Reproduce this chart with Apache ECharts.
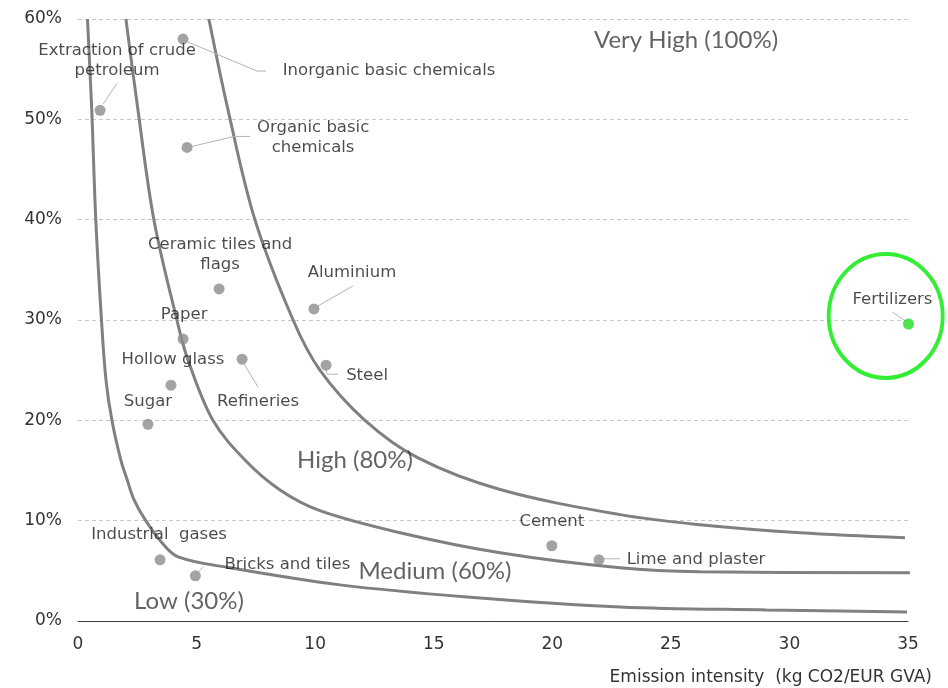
<!DOCTYPE html>
<html><head><meta charset="utf-8">
<script src="https://cdn.jsdelivr.net/npm/echarts@6/dist/echarts.min.js"></script>
<style>html,body{margin:0;padding:0;background:#fff}#c{width:948px;height:688px}</style>
</head><body><div id="c"></div>
<script>
// ---- data ----
const sectorNames = ['Extraction of crude\npetroleum','Inorganic basic chemicals','Organic basic\nchemicals','Ceramic tiles and\nflags','Aluminium','Paper','Hollow glass','Refineries','Steel','Sugar','Industrial  gases','Bricks and tiles','Cement','Lime and plaster','Fertilizers'];
const intensity = [0.93, 4.43, 4.6, 5.95, 9.95, 4.43, 3.92, 6.92, 10.46, 2.95, 3.46, 4.95, 19.98, 21.97, 35.02];
const share     = [50.9, 58.0, 47.2, 33.1, 31.1, 28.1, 23.5, 26.1, 25.5, 19.6, 6.1, 4.5, 7.5, 6.1, 29.6];

const xTicks = [0, 5, 10, 15, 20, 25, 30, 35];
const yTicks = [0, 10, 20, 30, 40, 50, 60];

const lowCurve = [[0.40,60.0],[0.58,50.9],[0.75,40.0],[0.99,30.0],[1.18,24.0],[1.43,20.0],[1.81,16.0],[2.07,14.1],[2.36,12.1],[2.83,10.1],[3.54,7.8],[4.22,6.4],[6.41,5.3],[11.05,3.6],[16.4,2.4],[22.86,1.4],[29.05,1.1],[34.96,0.9]];
const mediumCurve = [[2.02,60.0],[2.53,50.9],[3.20,40.0],[4.17,30.0],[4.64,26.0],[5.69,20.0],[7.04,16.05],[8.52,13.06],[10.2,11.0],[13.58,8.8],[17.8,6.8],[22.86,5.3],[26.23,4.9],[35.08,4.8]];
const highCurve = [[5.52,60.0],[6.33,50.9],[7.46,40.0],[9.07,30.0],[10.2,25.0],[12.1,20.0],[14.34,16.25],[17.8,13.1],[22.86,10.6],[26.23,9.6],[30.45,8.8],[34.87,8.3]];

const zoneNames = ['Very High (100%)','High (80%)','Medium (60%)','Low (30%)'];
const zonePos = [[25.64,57.9],[11.68,16.05],[15.05,4.98],[4.68,1.99]];

const highlightName = 'Fertilizers';
const highlightCenter = [34.06, 30.4];

// label centre offsets relative to the point (pixels)
const labelOffsets = {
  'Extraction of crude\npetroleum': [17, -50],
  'Inorganic basic chemicals': [206, 32],
  'Organic basic\nchemicals': [126, -10],
  'Ceramic tiles and\nflags': [1, -34],
  'Aluminium': [38, -36],
  'Paper': [1, -24],
  'Hollow glass': [2, -25],
  'Refineries': [16, 43],
  'Steel': [41, 11],
  'Sugar': [0, -23],
  'Industrial  gases': [-1, -25],
  'Bricks and tiles': [92, -11],
  'Cement': [0, -24],
  'Lime and plaster': [97, 0],
  'Fertilizers': [-16, -24]
};
// leader-line vertices relative to the point (pixels)
const leaderOffsets = {
  'Extraction of crude\npetroleum': [[3,-6],[17,-27]],
  'Inorganic basic chemicals': [[5,3],[74,32],[83,32]],
  'Organic basic\nchemicals': [[5,-1],[47,-11],[63,-11]],
  'Aluminium': [[4,-3],[39,-23]],
  'Refineries': [[2,5],[16,28]],
  'Steel': [[0,5],[1,9],[12,9]],
  'Bricks and tiles': [[3,-4],[8,-9]],
  'Lime and plaster': [[5,-1],[21,-1]],
  'Fertilizers': [[-3,-3],[-16,-12]]
};

const labelFont = 'DejaVu Sans, Verdana, sans-serif';
const zoneFont = 'Lato, Open Sans, sans-serif';

const points = sectorNames.map((n, i) => ({
  name: n,
  value: [intensity[i], share[i]],
  itemStyle: { color: n === highlightName ? '#22dd22' : '#8c8c8c' }
}));

const curveStyle = { color: '#808080', width: 3 };
function curve(name, data) {
  return { name, type: 'line', data, showSymbol: false, smooth: 0.35, clip: false,
    lineStyle: curveStyle, itemStyle: { color: '#808080' }, silent: true, z: 2 };
}

const chart = echarts.init(document.getElementById('c'));
chart.setOption({
  animation: false,
  backgroundColor: '#ffffff',
  grid: { left: 78, right: 40, top: 19, bottom: 67 },
  xAxis: {
    type: 'value', min: xTicks[0], max: xTicks[xTicks.length - 1], interval: 5,
    axisLine: { show: true, lineStyle: { color: '#404040', width: 1 } },
    axisTick: { show: false },
    splitLine: { show: false },
    axisLabel: { color: '#333333', fontFamily: labelFont, fontSize: 17, margin: 15 },
    name: 'Emission intensity  (kg CO2/EUR GVA)',
    nameLocation: 'end', nameGap: 24,
    nameTextStyle: { color: '#333333', fontFamily: labelFont, fontSize: 17, align: 'right', verticalAlign: 'top', padding: [48, 0, 0, 0] }
  },
  yAxis: {
    type: 'value', min: yTicks[0], max: yTicks[yTicks.length - 1], interval: 10,
    axisLine: { show: false }, axisTick: { show: false },
    splitLine: { show: true, lineStyle: { color: '#c8c8c8', type: [4, 3], width: 1 } },
    axisLabel: { color: '#333333', fontFamily: labelFont, fontSize: 17, margin: 16, formatter: '{value}%' }
  },
  series: [
    curve('Low', lowCurve),
    curve('Medium', mediumCurve),
    curve('High', highCurve),
    {
      name: 'Leaders', type: 'custom', silent: true, z: 3, clip: false,
      data: points.map(p => ({ name: p.name, value: p.value })),
      renderItem: (params, api) => {
        const off = leaderOffsets[sectorNames[params.dataIndex]];
        if (!off) return null;
        const c = api.coord([api.value(0), api.value(1)]);
        return { type: 'polyline', shape: { points: off.map(o => [c[0] + o[0], c[1] + o[1]]) },
          style: { stroke: '#b4b4b4', lineWidth: 1, fill: null } };
      }
    },
    {
      name: 'Sectors', type: 'scatter', data: points, symbolSize: 11, z: 5, silent: true, clip: false,
      label: { show: true, position: 'inside', formatter: p => p.name, color: '#1e1e1e',
        fontFamily: labelFont, fontSize: 16.5, lineHeight: 20, align: 'center' },
      labelLayout: p => { const o = labelOffsets[sectorNames[p.dataIndex]]; return { dx: o[0], dy: o[1] }; }
    },
    {
      name: 'Zones', type: 'scatter', symbolSize: 0, silent: true, z: 6,
      data: zoneNames.map((n, i) => ({ name: n, value: zonePos[i] })),
      label: { show: true, position: 'inside', formatter: p => p.name, color: '#3c3c3c',
        fontFamily: zoneFont, fontSize: 24 }
    },
    {
      name: 'Highlight', type: 'scatter', silent: true, z: 4, clip: false,
      data: [{ name: highlightName, value: highlightCenter }],
      symbol: 'circle', symbolSize: [114, 124],
      itemStyle: { color: 'rgba(0,0,0,0)', borderColor: '#00ea00', borderWidth: 4 }
    }
  ]
});
</script>
</body></html>
